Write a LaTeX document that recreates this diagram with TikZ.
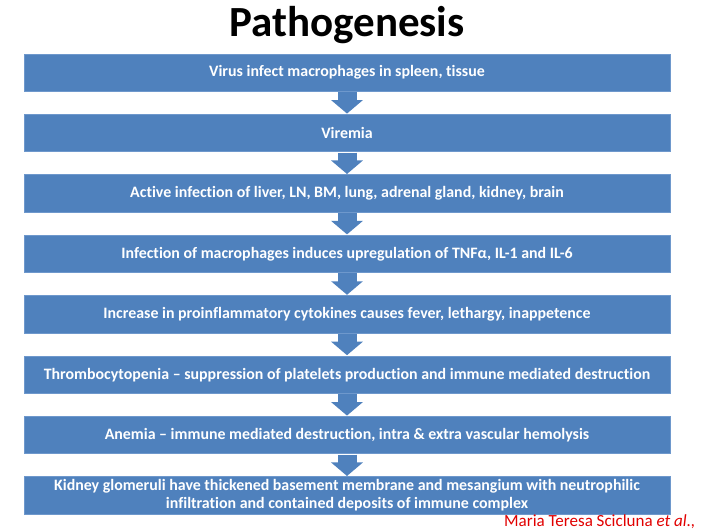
\documentclass[tikz,border=0pt]{standalone}
\usepackage{fontspec}
\setmainfont[Ligatures={NoCommon}]{Carlito}
\usetikzlibrary{arrows.meta}
\definecolor{boxblue}{RGB}{79,129,189}
\definecolor{boxedge}{RGB}{110,152,204}
\definecolor{citered}{RGB}{225,0,0}
\tikzset{
  stepbox/.style={fill=boxblue, draw=boxedge, line width=0.8pt, minimum width=646pt, minimum height=37.5pt,
    inner sep=0pt, text=white, font=\bfseries\fontsize{15.9}{18}\selectfont, align=center},
  flowarrow/.style={draw=boxblue, line width=19pt, -{Triangle[width=31pt,length=13.5pt]}, shorten >=0pt}
}
\begin{document}
\begin{tikzpicture}[x=1pt,y=1pt]
\useasboundingbox (0,0) rectangle (704,530);
\fill[white] (0,0) rectangle (704,530);
\node[anchor=base, font=\bfseries\fontsize{43}{50}\selectfont] (title) at (347,493) {Pathogenesis};
\node[stepbox] (b1) at (347,{530-54-18.75-0*60.4}) {Virus infect macrophages in spleen, tissue};
\node[stepbox] (b2) at (347,{530-54-18.75-1*60.4}) {Viremia};
\node[stepbox] (b3) at (347,{530-54-18.75-2*60.4}) {Active infection of liver, LN, BM, lung, adrenal gland, kidney, brain};
\node[stepbox] (b4) at (347,{530-54-18.75-3*60.4}) {Infection of macrophages induces upregulation of TNFα, IL-1 and IL-6};
\node[stepbox] (b5) at (347,{530-54-18.75-4*60.4}) {Increase in proinflammatory cytokines causes fever, lethargy, inappetence};
\node[stepbox] (b6) at (347,{530-54-18.75-5*60.4}) {Thrombocytopenia -- suppression of platelets production and immune mediated destruction};
\node[stepbox] (b7) at (347,{530-54-18.75-6*60.4}) {Anemia -- immune mediated destruction, intra \& extra vascular hemolysis};
\node[stepbox] (b8) at (347,{530-54-18.75-7*60.4}) {Kidney glomeruli have thickened basement membrane and mesangium with neutrophilic\\infiltration and contained deposits of immune complex};
\foreach \a/\b in {b1/b2,b2/b3,b3/b4,b4/b5,b5/b6,b6/b7,b7/b8}
  \draw[flowarrow] ([yshift=-0.4pt]\a.south) -- ([yshift=0.4pt]\b.north);
\node[anchor=base west, text=citered, font=\fontsize{17}{20}\selectfont, inner sep=0pt] (cite) at (504,3) {Maria Teresa Scicluna \textit{et al.,}};
\end{tikzpicture}
\end{document}
